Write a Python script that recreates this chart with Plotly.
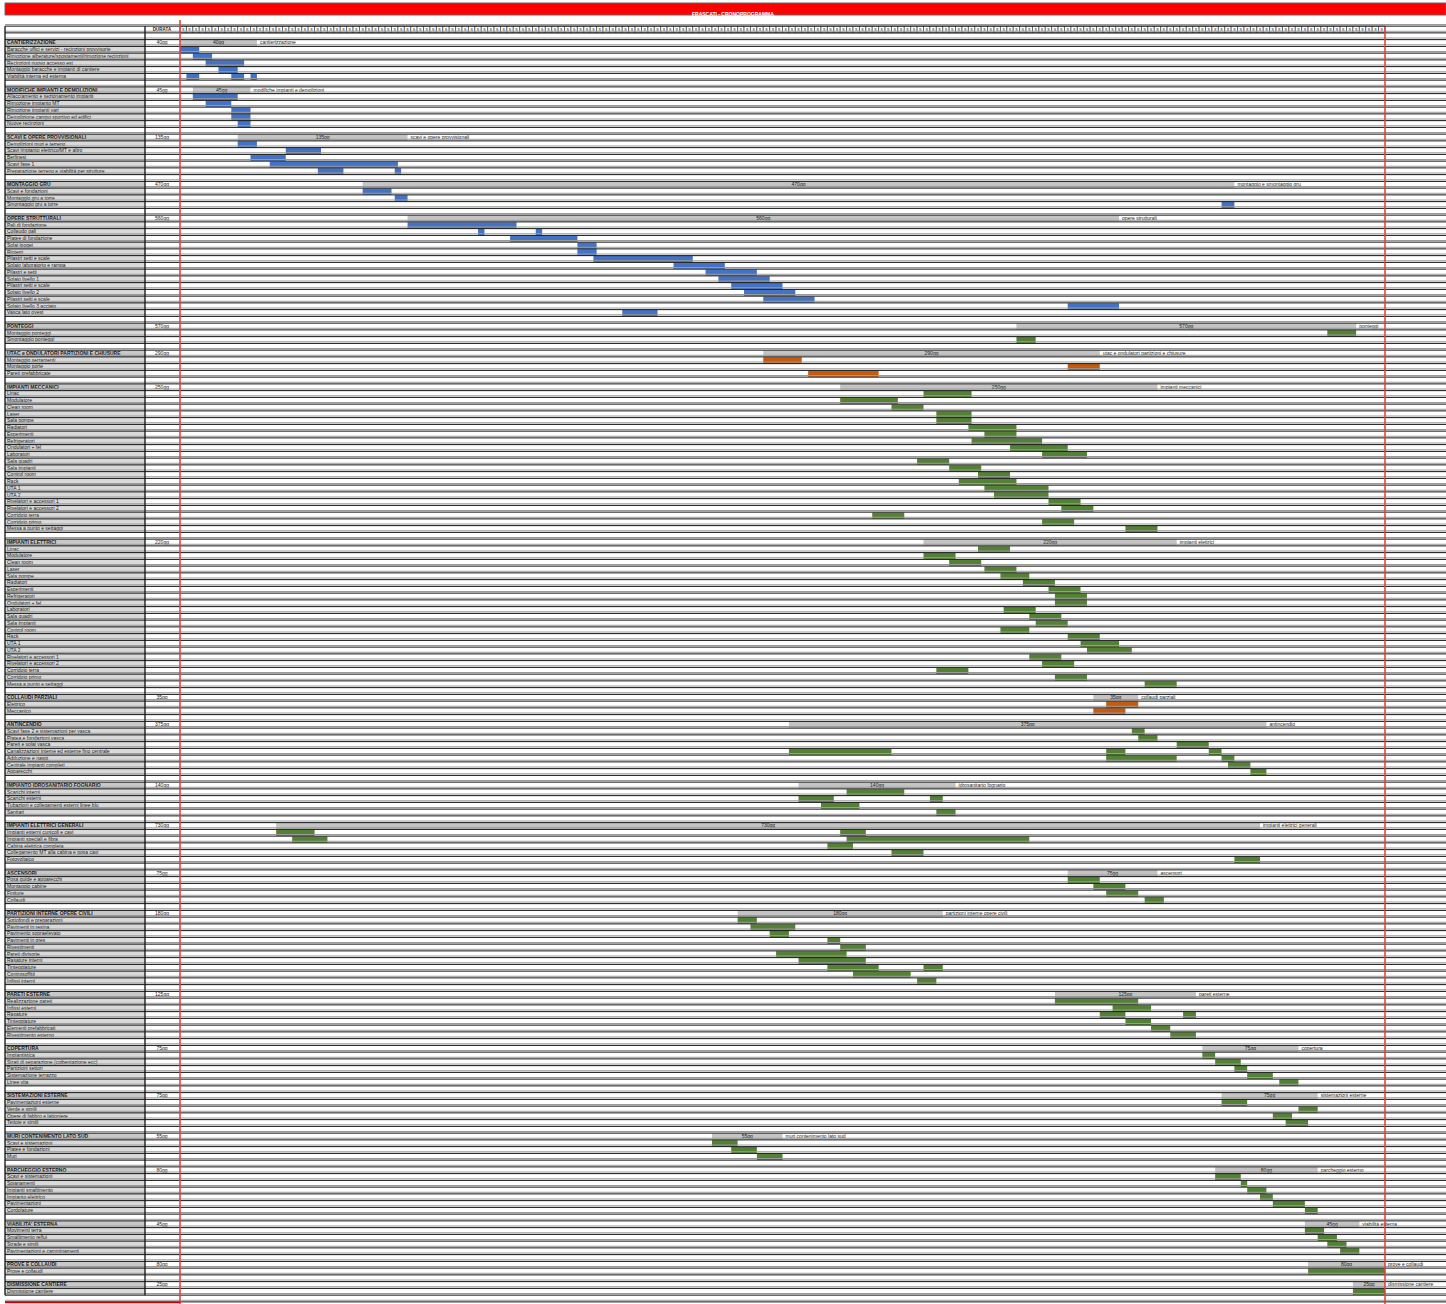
import plotly.graph_objects as go

TITLE = "FRASCATI - CRONOPROGRAMMA"
HEADER_LABEL = "DURATA"
N_WEEKS = 188

groups = ["CANTIERIZZAZIONE", "MODIFICHE IMPIANTI E DEMOLIZIONI", "SCAVI E OPERE PROVVISIONALI",
          "MONTAGGIO GRU", "OPERE STRUTTURALI", "PONTEGGI", "UTAC e ONDULATORI PARTIZIONI E CHIUSURE",
          "IMPIANTI MECCANICI", "IMPIANTI ELETTRICI", "COLLAUDI PARZIALI", "ANTINCENDIO",
          "IMPIANTO IDROSANITARIO FOGNARIO", "IMPIANTI ELETTRICI GENERALI", "ASCENSORI",
          "PARTIZIONI INTERNE OPERE CIVILI", "PARETI ESTERNE", "COPERTURA", "SISTEMAZIONI ESTERNE",
          "MURI CONTENIMENTO LATO SUD", "PARCHEGGIO ESTERNO", "VIABILITA' ESTERNA", "PROVE E COLLAUDI",
          "DISMISSIONE CANTIERE"]
durata = ["40gg", "45gg", "135gg", "470gg", "560gg", "570gg", "290gg", "250gg", "220gg", "35gg", "375gg",
          "140gg", "730gg", "75gg", "180gg", "125gg", "75gg", "75gg", "55gg", "80gg", "45gg", "80gg", "25gg"]
summary_start = [0, 2, 9, 28.5, 35.5, 130.5, 91, 103, 116, 142.5, 95, 96.5, 15, 138.5, 87, 136.5,
                 159.5, 162.5, 83, 161.5, 175.5, 176, 183]
summary_end = [12, 11, 35.5, 164.5, 146.5, 183.5, 143.5, 152.5, 155.5, 149.5, 169.5, 121, 168.5, 152.5,
               119, 158.5, 174.5, 177.5, 94, 177.5, 184, 188, 188]
summary_desc = ["cantierizzazione", "modifiche impianti e demolizioni", "scavi e opere provvisionali",
                "montaggio e smontaggio gru", "opere strutturali", "ponteggi",
                "utac e ondulatori partizioni e chiusure", "impianti meccanici", "impianti elettrici",
                "collaudi parziali", "antincendio", "idrosanitario fognario", "impianti elettrici generali",
                "ascensori", "partizioni interne opere civili", "pareti esterne", "copertura",
                "sistemazioni esterne", "muri contenimento lato sud", "parcheggio esterno",
                "viabilità esterna", "prove e collaudi", "dismissione cantiere"]
group_kind = ["blue"] * 5 + ["green", "orange", "green", "green", "orange"] + ["green"] * 13

impianti_rows = ["Linac", "Modulatore", "Clean room", "Laser", "Sala pompe", "Radiatori", "Esperimenti",
                 "Refrigeratori", "Ondulatori + fel", "Laboratori", "Sala quadri", "Sala impianti",
                 "Control room", "Rack", "UTA 1", "UTA 2", "Rivelatori e accessori 1",
                 "Rivelatori e accessori 2", "Corridoio terra", "Corridoio primo", "Messa a punto e settaggi"]

task_names = [
    ["Baracche uffici e servizi - recinzioni provvisorie", "Rimozione alberature/spostamenti/rimozione recinzioni",
     "Recinzioni nuovo accesso est", "Montaggio baracche e impianti di cantiere", "Viabilità interna ed esterna"],
    ["Allacciamento e sezionamento impianti", "Rimozione impianto MT", "Rimozione impianti vari",
     "Demolizione campo sportivo ed edifici", "Nuove recinzioni"],
    ["Demolizioni muri e terreno", "Scavi impianto elettrico/MT e altro", "Berlinesi", "Scavi fase 1",
     "Preparazione terreno e viabilità per strutture"],
    ["Scavi e fondazioni", "Montaggio gru a torre", "Smontaggio gru a torre"],
    ["Pali di fondazione", "Collaudo pali", "Platee di fondazione", "Solai ipogei", "Rinterri",
     "Pilastri setti e scale", "Solaio laboratorio e rampa", "Pilastri e setti", "Solaio livello 1",
     "Pilastri setti e scale", "Solaio livello 2", "Pilastri setti e scale", "Solaio livello 3 acciaio",
     "Vasca lato ovest"],
    ["Montaggio ponteggi", "Smontaggio ponteggi"],
    ["Montaggio serramenti", "Montaggio porte", "Pareti prefabbricate"],
    impianti_rows,
    impianti_rows,
    ["Elettrico", "Meccanico"],
    ["Scavi fase 2 e sistemazioni per vasca", "Platea e fondazioni vasca", "Pareti e solai vasca",
     "Canalizzazioni interne ed esterne fino centrale", "Adduzione e naspi", "Centrale impianti completi",
     "Apparecchi"],
    ["Scarichi interni", "Scarichi esterni", "Tubazioni e collegamenti esterni linee blu", "Sanitari"],
    ["Impianti esterni cunicoli e cavi", "Impianti speciali e fibra", "Cabina elettrica completa",
     "Collegamento MT alla cabina e posa cavi", "Fotovoltaico"],
    ["Posa guide e apparecchi", "Montaggio cabine", "Finiture", "Collaudi"],
    ["Sottofondi e preparazioni", "Pavimenti in resina", "Pavimento sopraelevato", "Pavimenti in gres",
     "Rivestimenti", "Pareti divisorie", "Rasature interni", "Tinteggiature", "Controsoffitti",
     "Infissi interni"],
    ["Realizzazione pareti", "Infissi esterni", "Rasature", "Tinteggiature", "Elementi prefabbricati",
     "Rivestimento esterno"],
    ["Impiantistica", "Strati di separazione (coibentazione ecc)", "Partizioni settori",
     "Sistemazione terrazzo", "Linee vita"],
    ["Pavimentazioni esterne", "Verde e simili", "Opere di fabbro e lattoniere", "Tettoie e simili"],
    ["Scavi e sistemazioni", "Platee e fondazioni", "Muri"],
    ["Scavi e sistemazioni", "Spianamenti", "Impianti smaltimento", "Impianto elettrico", "Pavimentazioni",
     "Cordolature"],
    ["Movimenti terra", "Smaltimento reflui", "Strade e simili", "Pavimentazioni e camminamenti"],
    ["Prove e collaudi"],
    ["Dismissione cantiere"],
]

# start/end (weeks) of each task segment
task_bars = [
    [[(0, 3)], [(2, 5)], [(4, 10)], [(6, 9)], [(1, 3), (8, 10), (11, 12)]],
    [[(2, 9)], [(4, 8)], [(8, 11)], [(8, 11)], [(9, 11)]],
    [[(9, 12)], [(16.5, 22)], [(11, 16.5)], [(14, 34)], [(21.5, 25.5), (33.5, 34.5)]],
    [[(28.5, 33)], [(33.5, 35.5)], [(162.5, 164.5)]],
    [[(35.5, 52.5)], [(46.5, 47.5), (55.5, 56.5)], [(51.5, 62)], [(62, 65)], [(62, 65)], [(64.5, 80)],
     [(77, 85)], [(82, 90)], [(84, 92)], [(86, 94)], [(88, 96)], [(91, 99)], [(138.5, 146.5)], [(69, 74.5)]],
    [[(179, 183.5)], [(130.5, 133.5)]],
    [[(91, 97)], [(138.5, 143.5)], [(98, 109)]],
    [[(116, 123.5)], [(103, 112)], [(111, 116)], [(118, 123.5)], [(118, 123.5)], [(123, 130.5)],
     [(125.5, 130.5)], [(123.5, 134.5)], [(129.5, 138.5)], [(134.5, 141.5)], [(115, 120)], [(120, 125)],
     [(124.5, 129.5)], [(121.5, 130.5)], [(125.5, 135.5)], [(127, 135.5)], [(135.5, 140.5)],
     [(137.5, 142.5)], [(108, 113)], [(134.5, 139.5)], [(147.5, 152.5)]],
    [[(124.5, 129.5)], [(116, 121)], [(120, 125)], [(125.5, 130.5)], [(128, 132.5)], [(131.5, 136.5)],
     [(135.5, 140.5)], [(136.5, 141.5)], [(136.5, 141.5)], [(128.5, 133.5)], [(132.5, 137.5)],
     [(133.5, 138.5)], [(128, 132.5)], [(138.5, 143.5)], [(140.5, 146.5)], [(141.5, 148.5)],
     [(132.5, 137.5)], [(134.5, 139.5)], [(118, 123)], [(136.5, 141.5)], [(150.5, 155.5)]],
    [[(144.5, 149.5)], [(142.5, 147.5)]],
    [[(148.5, 150.5)], [(149.5, 152.5)], [(155.5, 160.5)], [(95, 111), (144.5, 147.5), (160.5, 162.5)],
     [(144.5, 155.5), (162.5, 164.5)], [(163.5, 167)], [(167, 169.5)]],
    [[(104, 113)], [(96.5, 102), (117, 119)], [(100, 106)], [(118, 121)]],
    [[(15, 21), (103, 107)], [(17.5, 23), (104, 132.5)], [(101, 105)], [(111, 116)], [(164.5, 168.5)]],
    [[(138.5, 143.5)], [(142.5, 147.5)], [(144.5, 149.5)], [(150.5, 153.5)]],
    [[(87, 90)], [(89, 96)], [(92, 95)], [(101, 103)], [(103, 107)], [(93, 104)], [(96.5, 107)],
     [(101, 109), (116, 119)], [(105, 114)], [(115, 118)]],
    [[(136.5, 149.5)], [(145.5, 151.5)], [(143.5, 147.5), (156.5, 158.5)], [(147.5, 151.5)],
     [(151.5, 154.5)], [(154.5, 158.5)]],
    [[(159.5, 161.5)], [(161.5, 165.5)], [(164.5, 166.5)], [(166.5, 170.5)], [(171.5, 174.5)]],
    [[(162.5, 166.5)], [(174.5, 177.5)], [(170.5, 173.5)], [(172.5, 176)]],
    [[(83, 87)], [(86, 90)], [(90, 94)]],
    [[(161.5, 165.5)], [(165.5, 166.5)], [(166.5, 169.5)], [(168.5, 170.5)], [(170.5, 175.5)],
     [(175.5, 177.5)]],
    [[(175.5, 178.5)], [(177.5, 180.5)], [(179, 182)], [(181, 184)]],
    [[(176, 188)]],
    [[(183, 188)]],
]

# ---------------- styling / geometry ----------------
W, H = 1446, 1304
COLORS = {"blue": "#4472C4", "green": "#548235", "orange": "#C55A11"}
SUMMARY_COLOR = "#C4C4C4"
FONT = "Liberation Sans Narrow, Arial Narrow, Liberation Sans, sans-serif"
PXW = 1205 / N_WEEKS          # pixels per week
ROW_H = 6.75                  # pixels per row


def px(p):
    return (p - 180) / PXW


def py(p):
    return (p - 43) / ROW_H


# build rows
hdr_rows, task_rows, blank_rows = [], [], []
lab_rows, lab_text = [], []
seg = {k: ([], [], []) for k in COLORS}
sum_rows = []
r = 0
for gi, g in enumerate(groups):
    hdr_rows.append(r)
    sum_rows.append(r)
    lab_rows.append(r)
    lab_text.append("<b>" + g + "</b>")
    r += 1
    for ti, name in enumerate(task_names[gi]):
        task_rows.append(r)
        lab_rows.append(r)
        lab_text.append(name)
        for (s, e) in task_bars[gi][ti]:
            seg[group_kind[gi]][0].append(r)
            seg[group_kind[gi]][1].append(s)
            seg[group_kind[gi]][2].append(e - s)
        r += 1
    if gi < len(groups) - 1:
        blank_rows.append(r)
        r += 1
last_row = r - 1

fig = go.Figure()

# label column backgrounds
bg_rows = hdr_rows + task_rows
bg_cols = ["#C8C8C8"] * len(hdr_rows) + ["#D9D9D9"] * len(task_rows)
fig.add_trace(go.Bar(orientation="h", y=bg_rows, base=[px(5)] * len(bg_rows),
                     x=[px(145) - px(5)] * len(bg_rows), width=1.0,
                     marker=dict(color=bg_cols, line=dict(width=0)), hoverinfo="skip"))

# header week cells
weeks = list(range(N_WEEKS))
fig.add_trace(go.Bar(orientation="h", y=[-2] * N_WEEKS, base=weeks, x=[1] * N_WEEKS, width=1.0,
                     marker=dict(color="white", line=dict(color="#444", width=0.7)), hoverinfo="skip"))
fig.add_trace(go.Scatter(x=[w + 0.5 for w in weeks], y=[-2] * N_WEEKS, mode="text",
                         text=["s"] * N_WEEKS, textfont=dict(size=5, color="#333", family=FONT),
                         hoverinfo="skip"))

# summary bars
fig.add_trace(go.Bar(orientation="h", y=sum_rows, base=summary_start,
                     x=[e - s for s, e in zip(summary_start, summary_end)], width=0.92,
                     marker=dict(color=SUMMARY_COLOR, line=dict(width=0)), hoverinfo="skip"))

# task bars
for k, (yy, bb, ll) in seg.items():
    fig.add_trace(go.Bar(orientation="h", y=yy, base=bb, x=ll, width=0.92,
                         marker=dict(color=COLORS[k], line=dict(width=0)), hoverinfo="skip"))

# texts
fig.add_trace(go.Scatter(x=[px(7)] * len(lab_rows), y=lab_rows, mode="text", text=lab_text,
                         textposition="middle right", textfont=dict(size=5, color="#1a1a1a", family=FONT),
                         hoverinfo="skip"))
fig.add_trace(go.Scatter(x=[px(162)] * len(sum_rows), y=sum_rows, mode="text", text=durata,
                         textposition="middle center", textfont=dict(size=5, color="#1a1a1a", family=FONT),
                         hoverinfo="skip"))
fig.add_trace(go.Scatter(x=[(s + e) / 2 for s, e in zip(summary_start, summary_end)], y=sum_rows,
                         mode="text", text=durata, textposition="middle center",
                         textfont=dict(size=5, color="#1a1a1a", family=FONT), hoverinfo="skip"))
fig.add_trace(go.Scatter(x=[e + 3 / PXW for e in summary_end], y=sum_rows, mode="text", text=summary_desc,
                         textposition="middle right", textfont=dict(size=5, color="#1a1a1a", family=FONT),
                         hoverinfo="skip"))
fig.add_trace(go.Scatter(x=[px(162)], y=[-2], mode="text", text=["<b>" + HEADER_LABEL + "</b>"],
                         textposition="middle center", textfont=dict(size=4.5, color="#1a1a1a", family=FONT),
                         hoverinfo="skip"))

shapes = []
# row lines
b = -2.5
while b <= last_row + 1.5:
    shapes.append(dict(type="line", xref="x", yref="y", x0=px(5), x1=px(W), y0=b, y1=b,
                       line=dict(color="#111", width=1)))
    shapes.append(dict(type="line", xref="x", yref="y", x0=px(5), x1=px(W), y0=b - 1.6 / ROW_H,
                       y1=b - 1.6 / ROW_H, line=dict(color="#9a9a9a", width=1)))
    b += 1
# vertical borders
for xv in (5, 145):
    shapes.append(dict(type="line", xref="x", yref="y", x0=px(xv), x1=px(xv), y0=-2.5, y1=last_row + 0.5,
                       line=dict(color="#111", width=1.3)))
shapes.append(dict(type="line", xref="x", yref="y", x0=0, x1=0, y0=py(20), y1=py(H),
                   line=dict(color="#E03C3C", width=1.5)))
shapes.append(dict(type="line", xref="x", yref="y", x0=N_WEEKS, x1=N_WEEKS, y0=py(27), y1=py(H),
                   line=dict(color="#E03C3C", width=1.5)))
shapes.append(dict(type="line", xref="x", yref="y", x0=px(5), x1=0, y0=py(1302.5), y1=py(1302.5),
                   line=dict(color="#C00000", width=1.5)))
# title bar
shapes.append(dict(type="rect", xref="paper", yref="paper", x0=5 / W, x1=1.0, y0=1 - 15 / H, y1=1 - 3 / H,
                   fillcolor="#FF0000", line=dict(color="#666", width=1)))

fig.update_layout(
    width=W, height=H, margin=dict(l=0, r=0, t=0, b=0, pad=0),
    paper_bgcolor="white", plot_bgcolor="white", showlegend=False, barmode="overlay",
    xaxis=dict(range=[px(0), px(W)], visible=False, fixedrange=True),
    yaxis=dict(range=[py(H), py(0)], visible=False, fixedrange=True),
    shapes=shapes,
    annotations=[dict(text="<b>" + TITLE + "</b>", xref="paper", yref="paper", x=733 / W, y=1 - 9 / H,
                      showarrow=False, font=dict(size=5, color="white", family=FONT))],
)

fig.write_html("out.html", config={"displayModeBar": False},
               post_script="document.body.style.margin='0';document.body.style.overflow='hidden';")
